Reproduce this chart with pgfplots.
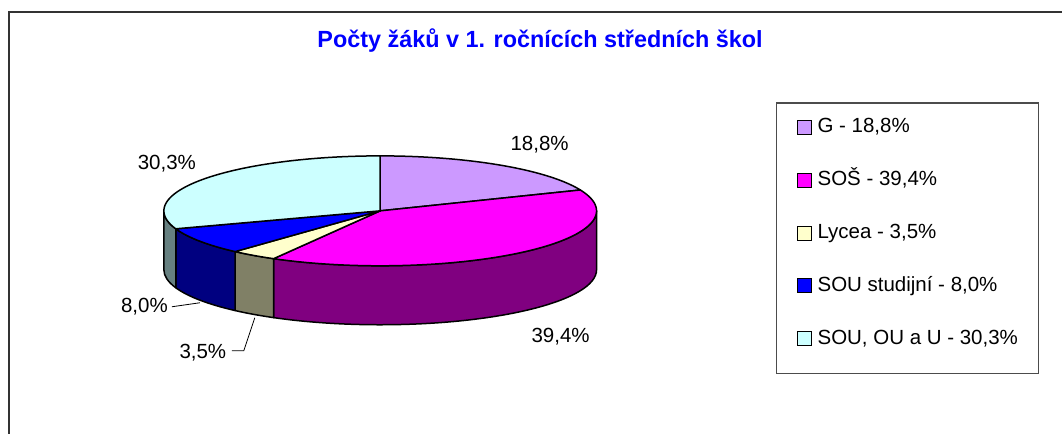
\documentclass[border=0pt]{standalone}
\usepackage{pgfplots}
\pgfplotsset{compat=1.18}
\usepackage{pgfplotstable}
\usepackage{fontspec}
\setmainfont{Liberation Sans}

\definecolor{pieTop0}{HTML}{CC99FF}
\definecolor{pieTop1}{HTML}{FF00FF}
\definecolor{pieTop2}{HTML}{FFFFCC}
\definecolor{pieTop3}{HTML}{0000FF}
\definecolor{pieTop4}{HTML}{CCFFFF}
\definecolor{pieSide0}{HTML}{664C80}
\definecolor{pieSide1}{HTML}{800080}
\definecolor{pieSide2}{HTML}{808066}
\definecolor{pieSide3}{HTML}{000080}
\definecolor{pieSide4}{HTML}{668080}
\definecolor{titleblue}{HTML}{0000FF}
\definecolor{framegray}{HTML}{333333}

\pgfplotstableread{
label pct
G 18.8
SOS 39.4
Lycea 3.5
SOUst 8.0
SOUOU 30.3
}\piedata

\def\cx{380.5}
\def\cy{223}
\def\rx{216.5}
\def\ry{55}
\def\dep{59}

\begin{document}
\begin{tikzpicture}
\gdef\cum{90}
\foreach \i in {0,...,4}{%
  \pgfplotstablegetelem{\i}{pct}\of\piedata
  \pgfmathsetmacro\nxt{\cum-3.6*\pgfplotsretval}%
  \pgfmathsetmacro\lo{max(\nxt,-180)}%
  \pgfmathsetmacro\hi{min(\cum,0)}%
  \expandafter\xdef\csname angS\i\endcsname{\cum}%
  \expandafter\xdef\csname angE\i\endcsname{\nxt}%
  \expandafter\xdef\csname sideLo\i\endcsname{\lo}%
  \expandafter\xdef\csname sideHi\i\endcsname{\hi}%
  \xdef\cum{\nxt}%
}
\begin{axis}[
  width=1063pt, height=434pt, scale only axis,
  xmin=0, xmax=1063, ymin=0, ymax=434,
  hide axis, clip=false,
  legsq/.style={draw=black, line width=1pt,
    legend image code/.code={\draw[##1] (0pt,-7pt) rectangle (14pt,7pt);}},
  legend style={draw=none, fill=none, inner sep=0pt,
    at={(axis cs:797,316.5)}, anchor=north west,
    row sep=34pt, column sep=6pt,
    nodes={inner sep=0pt, text height=15pt, text depth=4pt},
    font=\fontsize{20.5}{24}\selectfont},
  legend cell align=left,
]
\path (axis cs:0,0) rectangle (axis cs:1063,434);
% frame
\draw[framegray, line width=1.6pt] (axis cs:9,0) -- (axis cs:9,422) -- (axis cs:1063,422);
% legend box
\draw[black!70, line width=1.3pt] (axis cs:777,60) rectangle (axis cs:1039,331);
% side walls
\pgfplotsinvokeforeach{0,...,4}{%
  \ifdim\csname sideHi#1\endcsname pt>\csname sideLo#1\endcsname pt
  \addplot[forget plot, draw=black, line width=1.5pt, line join=round, fill=pieSide#1,
    domain=\csname sideLo#1\endcsname:\csname sideHi#1\endcsname, samples=80, variable=\t]
    ({\cx+\rx*cos(\t)},{\cy+\ry*sin(\t)})
    -- ++(0pt,-\dep pt)
    arc[start angle=\csname sideHi#1\endcsname, end angle=\csname sideLo#1\endcsname, x radius=\rx pt, y radius=\ry pt]
    -- cycle;
  \fi
}
% top wedges
\pgfplotsinvokeforeach{0,...,4}{%
  \addplot[forget plot, draw=black, line width=1.5pt, line join=round, fill=pieTop#1,
    domain=\csname angE#1\endcsname:\csname angS#1\endcsname, samples=100, variable=\t]
    ({\cx+\rx*cos(\t)},{\cy+\ry*sin(\t)}) -- (axis cs:\cx,\cy) -- cycle;
}
% data labels
\begin{scope}[every node/.style={inner sep=0pt, anchor=base, font=\fontsize{20.5}{24}\selectfont}]
\node at (axis cs:540,283.5) {18,8\%};
\node at (axis cs:561,91.5) {39,4\%};
\node at (axis cs:167,264) {30,3\%};
\node at (axis cs:144.5,121.5) {8,0\%};
\node at (axis cs:203,75.7) {3,5\%};
\end{scope}
\draw[black, line width=0.8pt] (axis cs:172,127) -- (axis cs:200,131);
\draw[black, line width=0.8pt] (axis cs:232,83) -- (axis cs:244,83) -- (axis cs:255,116);
% title
\node[inner sep=0pt, anchor=base, text=titleblue, font=\bfseries\fontsize{23.4}{28}\selectfont]
  at (axis cs:540.5,386.7) {Počty žáků v 1. ročnících středních škol};
% legend
\addlegendimage{legsq, fill=pieTop0}\addlegendentry{G - 18,8\%}
\addlegendimage{legsq, fill=pieTop1}\addlegendentry{SOŠ - 39,4\%}
\addlegendimage{legsq, fill=pieTop2}\addlegendentry{Lycea - 3,5\%}
\addlegendimage{legsq, fill=pieTop3}\addlegendentry{SOU studijní - 8,0\%}
\addlegendimage{legsq, fill=pieTop4}\addlegendentry{SOU, OU a U - 30,3\%}
\end{axis}
\end{tikzpicture}
\end{document}
